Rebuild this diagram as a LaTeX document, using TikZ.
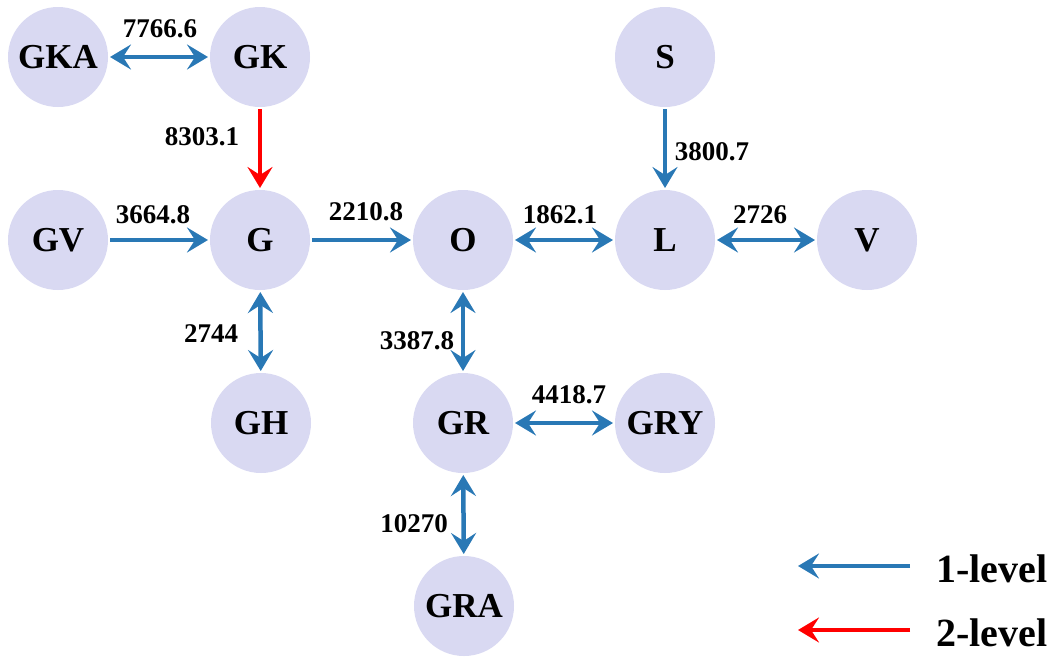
\documentclass[tikz,border=0pt]{standalone}
\usepackage{fontspec}
\setmainfont{Liberation Serif}
\usetikzlibrary{arrows.meta}
\definecolor{nodefill}{RGB}{217,217,242}
\definecolor{linkblue}{RGB}{41,120,181}
\definecolor{linkred}{RGB}{255,0,0}
\begin{document}
\begin{tikzpicture}[x=1pt,y=-1pt,
  >={Stealth[length=21pt,width=25pt,inset=8pt]},
  site/.style={circle, fill=nodefill, minimum size=100pt, inner sep=0pt, outer sep=2pt,
    font=\fontsize{35}{35}\selectfont\bfseries},
  link/.style={line width=4.5pt, draw=linkblue},
  lvltwo/.style={line width=4.5pt, draw=linkred},
  wt/.style={font=\fontsize{27}{27}\selectfont\bfseries, inner sep=0pt},
  legtext/.style={font=\fontsize{40}{40}\selectfont\bfseries, inner sep=0pt, anchor=west}]
\useasboundingbox (0,0) rectangle (1056,659);

% stations
\node[site] (GKA) at (58,57)  {GKA};
\node[site] (GK)  at (260,57) {GK};
\node[site] (S)   at (665,57) {S};
\node[site] (GV)  at (58,240) {GV};
\node[site] (G)   at (260,240) {G};
\node[site] (O)   at (463,240) {O};
\node[site] (L)   at (665,240) {L};
\node[site] (V)   at (867,240) {V};
\node[site] (GH)  at (261,423) {GH};
\node[site] (GR)  at (463,423) {GR};
\node[site] (GRY) at (665,423) {GRY};
\node[site] (GRA) at (464,606) {GRA};

% links
\draw[link,<->] (GKA) -- (GK);
\draw[lvltwo,->] (GK) -- (G);
\draw[link,->] (GV) -- (G);
\draw[link,->] (G) -- (O);
\draw[link,<->] (O) -- (L);
\draw[link,<->] (L) -- (V);
\draw[link,->] (S) -- (L);
\draw[link,<->] (G) -- (GH);
\draw[link,<->] (O) -- (GR);
\draw[link,<->] (GR) -- (GRY);
\draw[link,<->] (GR) -- (GRA);

% link weights
\node[wt] (w1)  at (160,29)  {7766.6};
\node[wt] (w2)  at (202,137) {8303.1};
\node[wt] (w3)  at (153,215) {3664.8};
\node[wt] (w4)  at (366,212) {2210.8};
\node[wt] (w5)  at (560,215) {1862.1};
\node[wt] (w6)  at (760,215) {2726};
\node[wt] (w7)  at (712,152) {3800.7};
\node[wt] (w8)  at (211,334) {2744};
\node[wt] (w9)  at (417,341) {3387.8};
\node[wt] (w10) at (569,395) {4418.7};
\node[wt] (w11) at (414,524) {10270};

% legend
\coordinate (l1a) at (910,566);
\coordinate (l1b) at (798,566);
\coordinate (l2a) at (910,630);
\coordinate (l2b) at (798,630);
\draw[link,->] (l1a) -- (l1b);
\draw[lvltwo,->] (l2a) -- (l2b);
\node[legtext] (t1) at (936,569) {1-level};
\node[legtext] (t2) at (936,633) {2-level};
\end{tikzpicture}
\end{document}
